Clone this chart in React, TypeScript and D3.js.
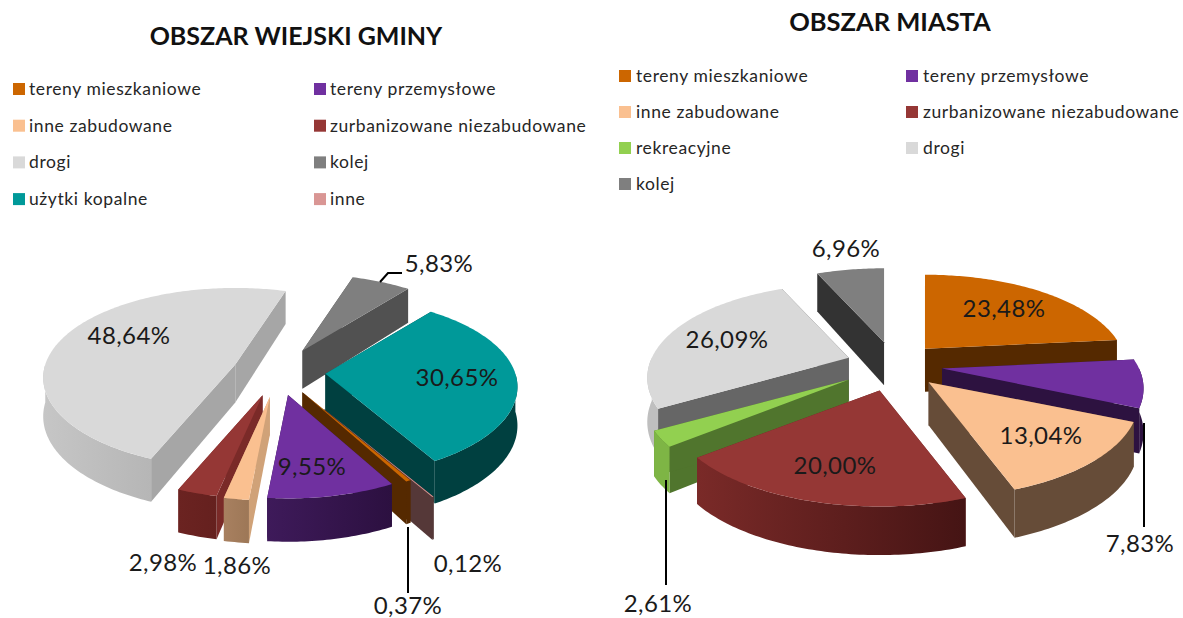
import React from "react";
import * as d3 from "d3";

// ---------- data ----------
const ruralNames = ["użytki kopalne", "inne", "tereny mieszkaniowe", "tereny przemysłowe", "inne zabudowane", "zurbanizowane niezabudowane", "drogi", "kolej"];
const ruralValues = [30.65, 0.12, 0.37, 9.55, 1.86, 2.98, 48.64, 5.83];
const ruralLabels = ["30,65%", "0,12%", "0,37%", "9,55%", "1,86%", "2,98%", "48,64%", "5,83%"];
const ruralExplode = [0.25, 0.48, 0.26, 0.26, 0.28, 0.27, 0.24, 0.27];
const ruralSpread = [1, 1, 1, 1, 1, 1, 1, 1];

const cityNames = ["tereny mieszkaniowe", "tereny przemysłowe", "inne zabudowane", "zurbanizowane niezabudowane", "rekreacyjne", "drogi", "kolej"];
const cityValues = [23.48, 7.83, 13.04, 20.0, 2.61, 26.09, 6.96];
const cityLabels = ["23,48%", "7,83%", "13,04%", "20,00%", "2,61%", "26,09%", "6,96%"];
const cityExplode = [0.23, 0.244, 0.25, 0.28, 0.28, 0.244, 0.244];
const citySpread = [1, 1, 1.04, 1.04, 1.02, 1, 1];

const ruralLegend = ["tereny mieszkaniowe", "tereny przemysłowe", "inne zabudowane", "zurbanizowane niezabudowane", "drogi", "kolej", "użytki kopalne", "inne"];
const cityLegend = ["tereny mieszkaniowe", "tereny przemysłowe", "inne zabudowane", "zurbanizowane niezabudowane", "rekreacyjne", "drogi", "kolej"];

// ---------- styles by category ----------
const topColor: Record<string, string> = {
  "tereny mieszkaniowe": "#cc6600",
  "tereny przemysłowe": "#7030a0",
  "inne zabudowane": "#fac090",
  "zurbanizowane niezabudowane": "#953735",
  rekreacyjne: "#92d050",
  drogi: "#d9d9d9",
  kolej: "#7f7f7f",
  "użytki kopalne": "#009999",
  inne: "#d99694",
};
const ruralWall = ["#004040", "#553838", "#552900", "#33124d", "#d0a278", "#7a2a28", "#a6a6a6", "#515151"];
const ruralOuter: [string, string][] = [["#004040", "#004040"], ["#553838", "#553838"], ["#552900", "#552900"], ["#3e1a5a", "#2c1040"], ["#a88060", "#94704f"], ["#6b2321", "#5e1d1b"], ["#c6c6c6", "#a2a2a2"], ["#515151", "#515151"]];
const cityWall = ["#552900", "#2d1240", "#664c38", "#6a2523", "#50752d", "#666666", "#333333"];
const cityOuter: [string, string][] = [["#552900", "#552900"], ["#2d1240", "#2d1240"], ["#664c38", "#664c38"], ["#7a2a28", "#451414"], ["#7eb545", "#7eb545"], ["#bfbfbf", "#bfbfbf"], ["#333333", "#333333"]];

const ruralGeom = { id: "r", cx: 278, cy: 372, rx: 190, ry: 90, p: 0.15, depth: 38, q: 0.14, start: 39 };
const cityGeom = { id: "c", cx: 894.5, cy: 365, rx: 197, ry: 95, p: 0.22, depth: 43, q: 0.13, start: 0 };

// label anchors (centre x, baseline y), in slice order
const ruralLabelPos = [[457, 386], [468, 572], [408, 614], [312, 475], [237, 574], [163, 571], [129, 344], [439, 272]];
const cityLabelPos = [[1004, 317], [1140, 552], [1041, 444], [835, 474], [658, 612], [727, 348], [846, 257]];

const leaders: [number, number][][] = [
  [[380, 282], [388, 273], [402, 273]],
  [[408, 527], [408, 593]],
  [[1144, 423], [1144, 527]],
  [[666, 480], [666, 585]],
];

const LABEL_FONT = "Lato, 'Open Sans', sans-serif";
const rad = (d: number) => (d * Math.PI) / 180;
const line = d3.line<number[]>().x((d) => d[0]).y((d) => d[1]);

type Geom = typeof ruralGeom;

function Pie3D({ geom, names, values, explode, spread, wall, outer }: { geom: Geom; names: string[]; values: number[]; explode: number[]; spread: number[]; wall: string[]; outer: [string, string][] }) {
  const arcs = d3.pie<number>().sort(null).value((d) => d).startAngle(rad(geom.start)).endAngle(rad(geom.start + 360))(values);
  const slices = arcs.map((a, i) => {
    const a0 = (a.startAngle * 180) / Math.PI;
    const a1 = (a.endAngle * 180) / Math.PI;
    const mid = (a0 + a1) / 2;
    const ax = geom.cx + explode[i] * geom.rx * Math.sin(rad(mid));
    const ay = geom.cy - explode[i] * geom.ry * Math.cos(rad(mid));
    const pt = (deg: number) => {
      const c = Math.cos(rad(deg));
      const s = 1 - geom.p * c;
      return [ax + geom.rx * spread[i] * Math.sin(rad(deg)) * s, ay - geom.ry * c * s, geom.depth * (1 - geom.q * c)];
    };
    const sample = (from: number, to: number) => {
      const n = Math.max(2, Math.ceil(to - from));
      return d3.range(n + 1).map((k) => pt(from + ((to - from) * k) / n));
    };
    const top = [[ax, ay], ...sample(a0, a1)];
    const wallPath = (deg: number) => {
      const p = pt(deg);
      return [[ax, ay], [p[0], p[1]], [p[0], p[1] + p[2]], [ax, ay + geom.depth]];
    };
    // outer wall only where it faces the viewer
    const windows = [[90, 270], [450, 630]];
    const outerParts = windows
      .map(([lo, hi]) => [Math.max(lo, a0), Math.min(hi, a1)])
      .filter(([lo, hi]) => hi > lo)
      .map(([lo, hi]) => {
        const up = sample(lo, hi);
        return [...up.map((p) => [p[0], p[1]]), ...up.slice().reverse().map((p) => [p[0], p[1] + p[2]])];
      });
    const xs = top.map((p) => p[0]);
    return { i, mid, top, walls: [wallPath(a0), wallPath(a1)], outerParts, x0: d3.min(xs)!, x1: d3.max(xs)! };
  });
  const ordered = slices.slice().sort((a, b) => -Math.cos(rad(a.mid)) - -Math.cos(rad(b.mid)));
  return (
    <g>
      <defs>
        {slices.map((s) => (
          <linearGradient key={s.i} id={`${geom.id}${s.i}`} gradientUnits="userSpaceOnUse" x1={s.x0} x2={s.x1} y1={0} y2={0}>
            <stop offset="0" stopColor={outer[s.i][0]} />
            <stop offset="1" stopColor={outer[s.i][1]} />
          </linearGradient>
        ))}
      </defs>
      {ordered.map((s) => (
        <g key={s.i}>
          {s.walls.map((w, k) => (
            <path key={k} d={line(w) + "Z"} fill={wall[s.i]} />
          ))}
          {s.outerParts.map((o, k) => (
            <path key={k} d={line(o) + "Z"} fill={`url(#${geom.id}${s.i})`} />
          ))}
          <path d={line(s.top.map((p) => [p[0], p[1]])) + "Z"} fill={topColor[names[s.i]]} />
        </g>
      ))}
    </g>
  );
}

function Legend({ items, x0, x1, y0, dy, textDx }: { items: string[]; x0: number; x1: number; y0: number; dy: number; textDx: number }) {
  return (
    <g>
      {items.map((name, i) => {
        const x = i % 2 === 0 ? x0 : x1;
        const y = y0 + Math.floor(i / 2) * dy;
        return (
          <g key={name}>
            <rect x={x} y={y - 6} width={12} height={12} fill={topColor[name]} />
            <text x={x + textDx} y={y + 6} fontFamily={LABEL_FONT} fontSize={17.5} letterSpacing={0.6} fill="#262626">
              {name}
            </text>
          </g>
        );
      })}
    </g>
  );
}

export default function App() {
  return (
    <svg width={1183} height={618} viewBox="0 0 1183 618" style={{ position: "absolute", left: 0, top: 0, background: "#fff" }}>
      <text x={296} y={45} textAnchor="middle" fontFamily={LABEL_FONT} fontWeight={700} fontSize={25} fill="#111">OBSZAR WIEJSKI GMINY</text>
      <text x={890} y={31} textAnchor="middle" fontFamily={LABEL_FONT} fontWeight={700} fontSize={25.5} fill="#111">OBSZAR MIASTA</text>

      <Legend items={ruralLegend} x0={13} x1={314} y0={89} dy={36.7} textDx={16} />
      <Legend items={cityLegend} x0={619} x1={906} y0={76} dy={36} textDx={17} />

      <Pie3D geom={ruralGeom} names={ruralNames} values={ruralValues} explode={ruralExplode} spread={ruralSpread} wall={ruralWall} outer={ruralOuter} />
      <Pie3D geom={cityGeom} names={cityNames} values={cityValues} explode={cityExplode} spread={citySpread} wall={cityWall} outer={cityOuter} />

      {leaders.map((l, i) => (
        <path key={i} d={line(l) ?? ""} fill="none" stroke="#000" strokeWidth={2} />
      ))}

      {ruralLabels.map((t, i) => (
        <text key={t} x={ruralLabelPos[i][0]} y={ruralLabelPos[i][1]} textAnchor="middle" fontFamily={LABEL_FONT} fontSize={24} letterSpacing={0.4} fill="#1a1a1a">{t}</text>
      ))}
      {cityLabels.map((t, i) => (
        <text key={t} x={cityLabelPos[i][0]} y={cityLabelPos[i][1]} textAnchor="middle" fontFamily={LABEL_FONT} fontSize={24} letterSpacing={0.4} fill="#1a1a1a">{t}</text>
      ))}
    </svg>
  );
}
